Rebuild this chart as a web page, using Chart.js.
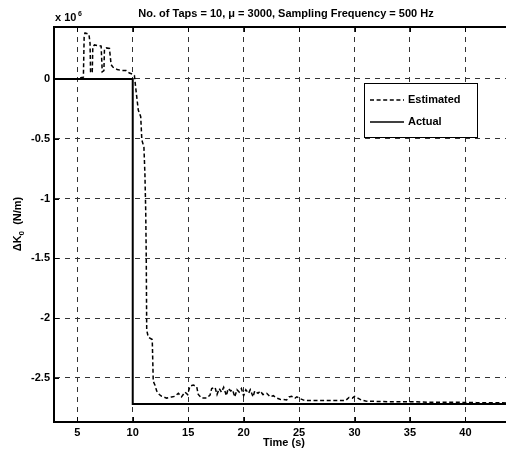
<!DOCTYPE html>
<html>
<head>
<meta charset="utf-8">
<script src="https://cdn.jsdelivr.net/npm/chart.js"></script>
<style>
    html, body { margin: 0; padding: 0; background: #fff; overflow: hidden; }
    #wrap { width: 506px; height: 455px; }
</style>
</head>
<body>
<div id="wrap"><canvas id="kChart" width="506" height="455"></canvas></div>
<script>
    // values in units of 10^6 N/m, time in s
    var estTime = [2.9, 5.0, 5.3, 5.55, 5.62, 5.7, 6.05, 6.15, 6.2, 6.35, 6.4, 6.55, 7.15, 7.25, 7.4, 7.45, 7.6, 7.9, 8.05, 8.2, 8.6, 9.0, 9.4, 9.7, 10.0, 10.15,
        10.3, 10.5, 10.72, 10.82, 11.01, 11.1, 11.17, 11.22, 11.26, 11.4, 11.76, 11.85, 12.0, 12.16, 12.4, 12.61, 13.06, 13.3, 13.51, 13.81, 14.11, 14.4,
        14.71, 14.95, 15.16, 15.46, 15.77, 15.91, 16.22, 16.67, 16.97, 17.12, 17.42, 17.6, 17.8, 18.0, 18.2, 18.45, 18.6, 18.85, 19.0, 19.2, 19.4, 19.6,
        19.8, 20.0, 20.2, 20.45, 20.6, 20.85, 21.0, 21.3, 21.5, 21.74, 22.08, 22.4, 22.67, 23.0, 23.28, 23.88, 24.1, 24.33, 24.63, 24.8, 25.1, 25.5, 26,
        27, 28, 29.2, 29.5, 29.8, 30.0, 30.3, 30.6, 31, 33, 35, 37, 39, 41, 43.66];
    var estValue = [0, 0, 0.01, 0.015, 0.36, 0.385, 0.375, 0.3, 0.05, 0.06, 0.27, 0.285, 0.275, 0.06, 0.07, 0.25, 0.26, 0.255, 0.12, 0.1, 0.08, 0.07, 0.07, 0.05, 0.04, 0.03,
        -0.1, -0.26, -0.315, -0.51, -0.57, -0.8, -1.1, -1.5, -2.1, -2.16, -2.18, -2.53, -2.56, -2.61, -2.64, -2.655, -2.67, -2.665, -2.66, -2.655, -2.63, -2.66,
        -2.62, -2.64, -2.57, -2.56, -2.575, -2.64, -2.67, -2.67, -2.645, -2.59, -2.58, -2.64, -2.59, -2.62, -2.58, -2.65, -2.59, -2.61, -2.6, -2.66, -2.6, -2.62,
        -2.59, -2.65, -2.6, -2.63, -2.6, -2.66, -2.61, -2.63, -2.61, -2.64, -2.63, -2.66, -2.65, -2.67, -2.68, -2.685, -2.66, -2.655, -2.67, -2.66, -2.675, -2.69, -2.69,
        -2.69, -2.69, -2.69, -2.665, -2.67, -2.655, -2.67, -2.685, -2.695, -2.7, -2.7, -2.705, -2.705, -2.708, -2.71];
    var actTime = [2.9, 10, 10, 43.66];
    var actValue = [0, 0, -2.72, -2.72];
    var xTicks = [5, 10, 15, 20, 25, 30, 35, 40];
    var yTicks = [-2.5, -2, -1.5, -1, -0.5, 0];
    var seriesNames = ["Estimated", "Actual"];

    function toPoints(xs, ys) {
        return xs.map(function(x, i) { return { x: x, y: ys[i] }; });
    }

    var FONT = "Liberation Sans, Arial, sans-serif";

    var extras = {
        id: "extras",
        afterDatasetsDraw: function(chart) {
            var ctx = chart.ctx, a = chart.chartArea;
            var xs = chart.scales.x, ys = chart.scales.y;
            ctx.save();
            // top border
            ctx.strokeStyle = "#000";
            ctx.lineWidth = 2;
            ctx.beginPath();
            ctx.moveTo(a.left - 1, a.top);
            ctx.lineTo(a.right, a.top);
            ctx.stroke();
            // inward ticks
            ctx.lineWidth = 1;
            ctx.beginPath();
            xTicks.forEach(function(t) {
                var px = Math.round(xs.getPixelForValue(t)) + 0.5;
                ctx.moveTo(px, a.bottom); ctx.lineTo(px, a.bottom - 5);
                ctx.moveTo(px, a.top); ctx.lineTo(px, a.top + 5);
            });
            yTicks.forEach(function(t) {
                var py = Math.round(ys.getPixelForValue(t)) + 0.5;
                ctx.moveTo(a.left, py); ctx.lineTo(a.left + 5, py);
            });
            ctx.stroke();

            // legend
            var lx = 364, ly = 83, lw = 113, lh = 54;
            ctx.fillStyle = "#fff";
            ctx.fillRect(lx, ly, lw, lh);
            ctx.strokeStyle = "#000";
            ctx.lineWidth = 1;
            ctx.strokeRect(lx + 0.5, ly + 0.5, lw, lh);
            ctx.lineWidth = 1.5;
            ctx.setLineDash([4, 2.6]);
            ctx.beginPath(); ctx.moveTo(370, 100); ctx.lineTo(404, 100); ctx.stroke();
            ctx.setLineDash([]);
            ctx.beginPath(); ctx.moveTo(370, 122); ctx.lineTo(404, 122); ctx.stroke();
            ctx.fillStyle = "#000";
            ctx.font = "bold 11px " + FONT;
            ctx.textBaseline = "middle";
            ctx.textAlign = "left";
            ctx.fillText(seriesNames[0], 408, 100);
            ctx.fillText(seriesNames[1], 408, 122);

            // title
            ctx.textAlign = "center";
            ctx.fillText("No. of Taps = 10, \u03bc = 3000, Sampling Frequency = 500 Hz", 286, 14);
            // x label
            ctx.fillText("Time (s)", 284, 443);
            // exponent
            ctx.textAlign = "left";
            ctx.textBaseline = "alphabetic";
            ctx.fillText("x 10", 55, 21);
            ctx.font = "bold 7px " + FONT;
            ctx.fillText("6", 78, 16);

            // y label
            ctx.translate(21, 224);
            ctx.rotate(-Math.PI / 2);
            var p1 = "\u0394K", p3 = "  (N/m)";
            ctx.font = "bold 11px " + FONT;
            var w1 = ctx.measureText(p1).width, w3 = ctx.measureText(p3).width;
            ctx.font = "bold 8px " + FONT;
            var w2 = ctx.measureText("0").width;
            var start = -(w1 + w2 + w3) / 2;
            ctx.font = "bold 11px " + FONT;
            ctx.fillText(p1, start, 0);
            ctx.font = "bold 8px " + FONT;
            ctx.fillText("0", start + w1, 3);
            ctx.font = "bold 11px " + FONT;
            ctx.fillText(p3, start + w1 + w2, 0);
            ctx.restore();
        }
    };

    var kChart = new Chart(document.getElementById("kChart").getContext("2d"), {
        type: "scatter",
        data: {
            datasets: [
                {
                    label: seriesNames[0],
                    data: toPoints(estTime, estValue),
                    showLine: true,
                    pointRadius: 0,
                    borderColor: "#000",
                    borderWidth: 1.5,
                    borderDash: [4, 2.6],
                    tension: 0
                },
                {
                    label: seriesNames[1],
                    data: toPoints(actTime, actValue),
                    showLine: true,
                    pointRadius: 0,
                    borderColor: "#000",
                    borderWidth: 2,
                    tension: 0
                }
            ]
        },
        options: {
            responsive: false,
            animation: false,
            layout: { padding: { top: 27, right: 0, left: 0, bottom: 0 } },
            plugins: {
                legend: { display: false },
                title: { display: false },
                tooltip: { enabled: false }
            },
            scales: {
                x: {
                    type: "linear",
                    min: 2.9,
                    max: 43.66,
                    bounds: "data",
                    afterFit: function(scale) { scale.height = 33; },
                    afterBuildTicks: function(scale) {
                        scale.ticks = xTicks.map(function(v) { return { value: v }; });
                    },
                    ticks: {
                        color: "#000",
                        padding: 4,
                        maxRotation: 0,
                        font: { family: FONT, size: 11, weight: "bold" }
                    },
                    grid: {
                        color: "#333",
                        lineWidth: 1,
                        drawTicks: false
                    },
                    border: { display: true, color: "#000", width: 2, dash: [5, 5] }
                },
                y: {
                    type: "linear",
                    min: -2.87,
                    max: 0.435,
                    bounds: "data",
                    afterFit: function(scale) { scale.width = 54; },
                    afterBuildTicks: function(scale) {
                        scale.ticks = yTicks.map(function(v) { return { value: v }; });
                    },
                    ticks: {
                        color: "#000",
                        padding: 4,
                        font: { family: FONT, size: 11, weight: "bold" },
                        callback: function(v) { return v.toString(); }
                    },
                    grid: {
                        color: "#333",
                        lineWidth: 1,
                        drawTicks: false
                    },
                    border: { display: true, color: "#000", width: 2, dash: [5, 5] }
                }
            }
        },
        plugins: [extras]
    });
</script>
</body>
</html>
